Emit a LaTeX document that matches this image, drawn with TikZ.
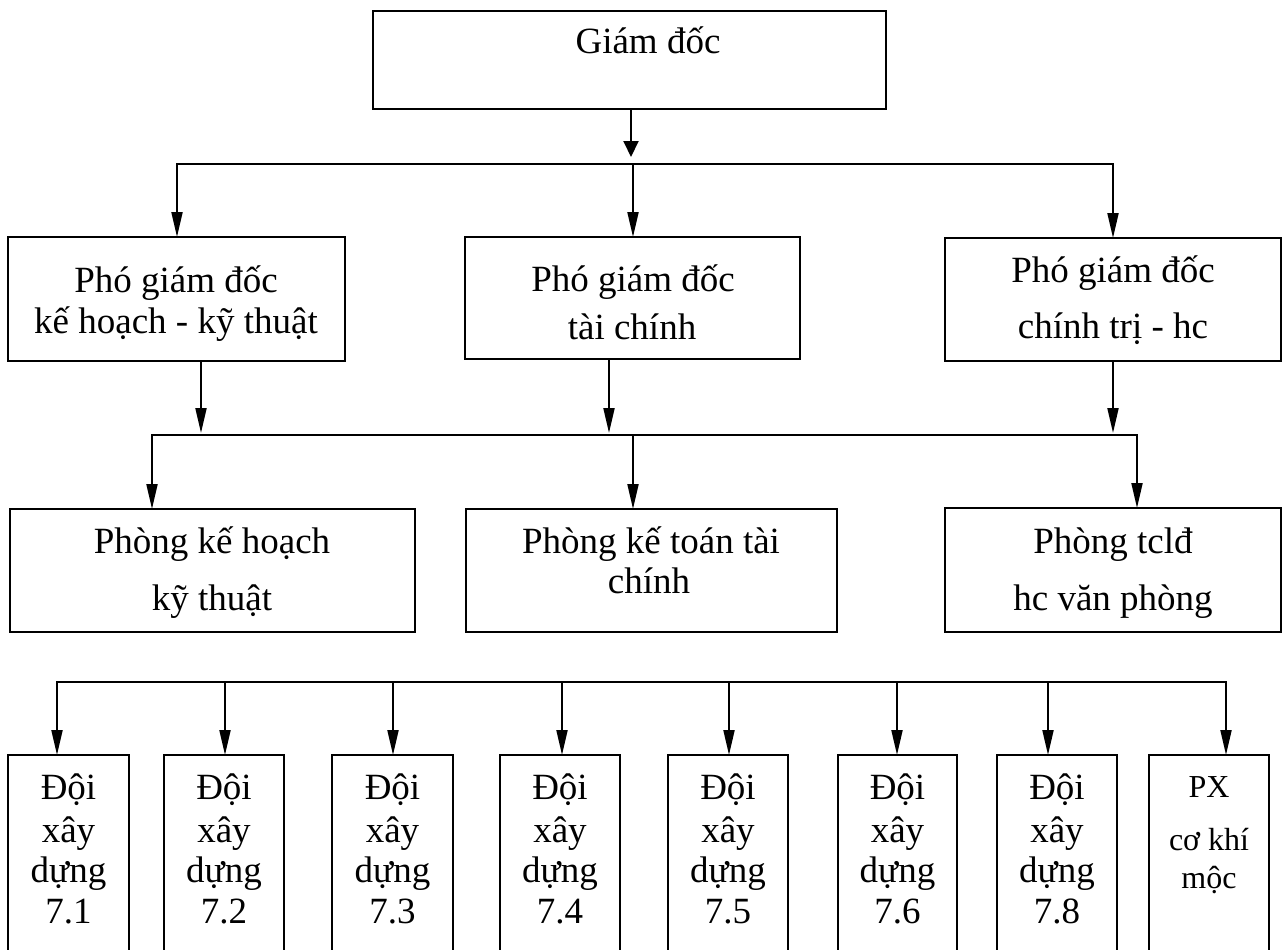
\documentclass[tikz,border=0pt]{standalone}
\usepackage{fontspec}
\setmainfont{Liberation Serif}
\usetikzlibrary{arrows.meta}
% a plain rectangle given by its two corners: name, x1, y1, x2, y2
\newcommand\orgbox[5]{%
  \node[box, minimum width={(#4-#2)*1pt}, minimum height={(#5-#3)*1pt}]
    (#1) at ({(#2+#4)/2},{(#3+#5)/2}) {};}
\begin{document}
\begin{tikzpicture}[x=1pt,y=-1pt,
  box/.style={draw, line width=2pt, inner sep=0pt, outer sep=0pt},
  txt/.style={anchor=base, inner sep=0pt, font=\fontsize{37}{44}\selectfont},
  txtsm/.style={txt, font=\fontsize{32}{38}\selectfont},
  link/.style={line width=2pt, -{Triangle[length=25pt,width=11pt]}},
  linkboth/.style={line width=2pt, {Triangle[length=25pt,width=11pt]}-{Triangle[length=25pt,width=11pt]}},
  linktop/.style={line width=2pt, -{Triangle[length=16pt,width=15pt]}}]
\clip (0,0) rectangle (1286,950);

% ---- boxes ----
\orgbox{gd}{373}{11}{886}{109}
\orgbox{p1}{8}{237}{345}{361}
\orgbox{p2}{465}{237}{800}{359}
\orgbox{p3}{945}{238}{1281}{361}
\orgbox{q1}{10}{509}{415}{632}
\orgbox{q2}{466}{509}{837}{632}
\orgbox{q3}{945}{508}{1281}{632}
\orgbox{d1}{8}{755}{129}{965}
\orgbox{d2}{164}{755}{284}{965}
\orgbox{d3}{332}{755}{453}{965}
\orgbox{d4}{500}{755}{620}{965}
\orgbox{d5}{668}{755}{788}{965}
\orgbox{d6}{838}{755}{957}{965}
\orgbox{d7}{997}{755}{1117}{965}
\orgbox{d8}{1149}{755}{1269}{965}

% ---- texts ----
\node[txt] (gd-t) at (648,54) {Giám đốc};
\node[txt] (p1-a) at (176,292) {Phó giám đốc};
\node[txt] (p1-b) at (176,333) {kế hoạch - kỹ thuật};
\node[txt] (p2-a) at (633,291) {Phó giám đốc};
\node[txt] (p2-b) at (632,339) {tài chính};
\node[txt] (p3-a) at (1113,282) {Phó giám đốc};
\node[txt] (p3-b) at (1113,338) {chính trị - hc};
\node[txt] (q1-a) at (212,553) {Phòng kế hoạch};
\node[txt] (q1-b) at (212,610) {kỹ thuật};
\node[txt] (q2-a) at (651,553) {Phòng kế toán tài};
\node[txt] (q2-b) at (649,593) {chính};
\node[txt] (q3-a) at (1113,553) {Phòng tclđ};
\node[txt] (q3-b) at (1113,610) {hc văn phòng};
\foreach \i/\x/\n in {1/68.5/7.1, 2/224/7.2, 3/392.5/7.3, 4/560/7.4,
                      5/728/7.5, 6/897.5/7.6, 7/1057/7.8}{
  \node[txt] (d\i-a) at (\x,799) {Đội};
  \node[txt] (d\i-b) at (\x,842) {xây};
  \node[txt] (d\i-c) at (\x,882) {dựng};
  \node[txt] (d\i-d) at (\x,923) {\n};
}
\node[txtsm] (d8-a) at (1209,797) {PX};
\node[txtsm] (d8-b) at (1209,850) {cơ khí};
\node[txtsm] (d8-c) at (1209,888) {mộc};

% ---- connectors ----
\coordinate (t0) at (631,157);
\draw[linktop] (gd.south -| t0) -- (t0);

\coordinate (b1L) at (177,164);
\coordinate (b1M) at (633,164);
\coordinate (b1R) at (1113,164);
\draw[linkboth] (p1.north -| b1L) -- (b1L) -- (b1R) -- (p3.north -| b1R);
\draw[link] (b1M) -- (p2.north -| b1M);

\coordinate (a1) at (201,433);
\coordinate (a2) at (609,433);
\coordinate (a3) at (1113,433);
\draw[link] (p1.south -| a1) -- (a1);
\draw[link] (p2.south -| a2) -- (a2);
\draw[link] (p3.south -| a3) -- (a3);

\coordinate (b2L) at (152,435);
\coordinate (b2M) at (633,435);
\coordinate (b2R) at (1137,435);
\draw[linkboth] (q1.north -| b2L) -- (b2L) -- (b2R) -- (q3.north -| b2R);
\draw[link] (b2M) -- (q2.north -| b2M);

\coordinate (b3L) at (57,682);
\coordinate (b3R) at (1226,682);
\draw[linkboth] (d1.north -| b3L) -- (b3L) -- (b3R) -- (d8.north -| b3R);
\foreach \i/\x in {2/225, 3/393, 4/562, 5/729, 6/897, 7/1048}{
  \coordinate (b3-\i) at (\x,682);
  \draw[link] (b3-\i) -- (d\i.north -| b3-\i);
}
\end{tikzpicture}
\end{document}
